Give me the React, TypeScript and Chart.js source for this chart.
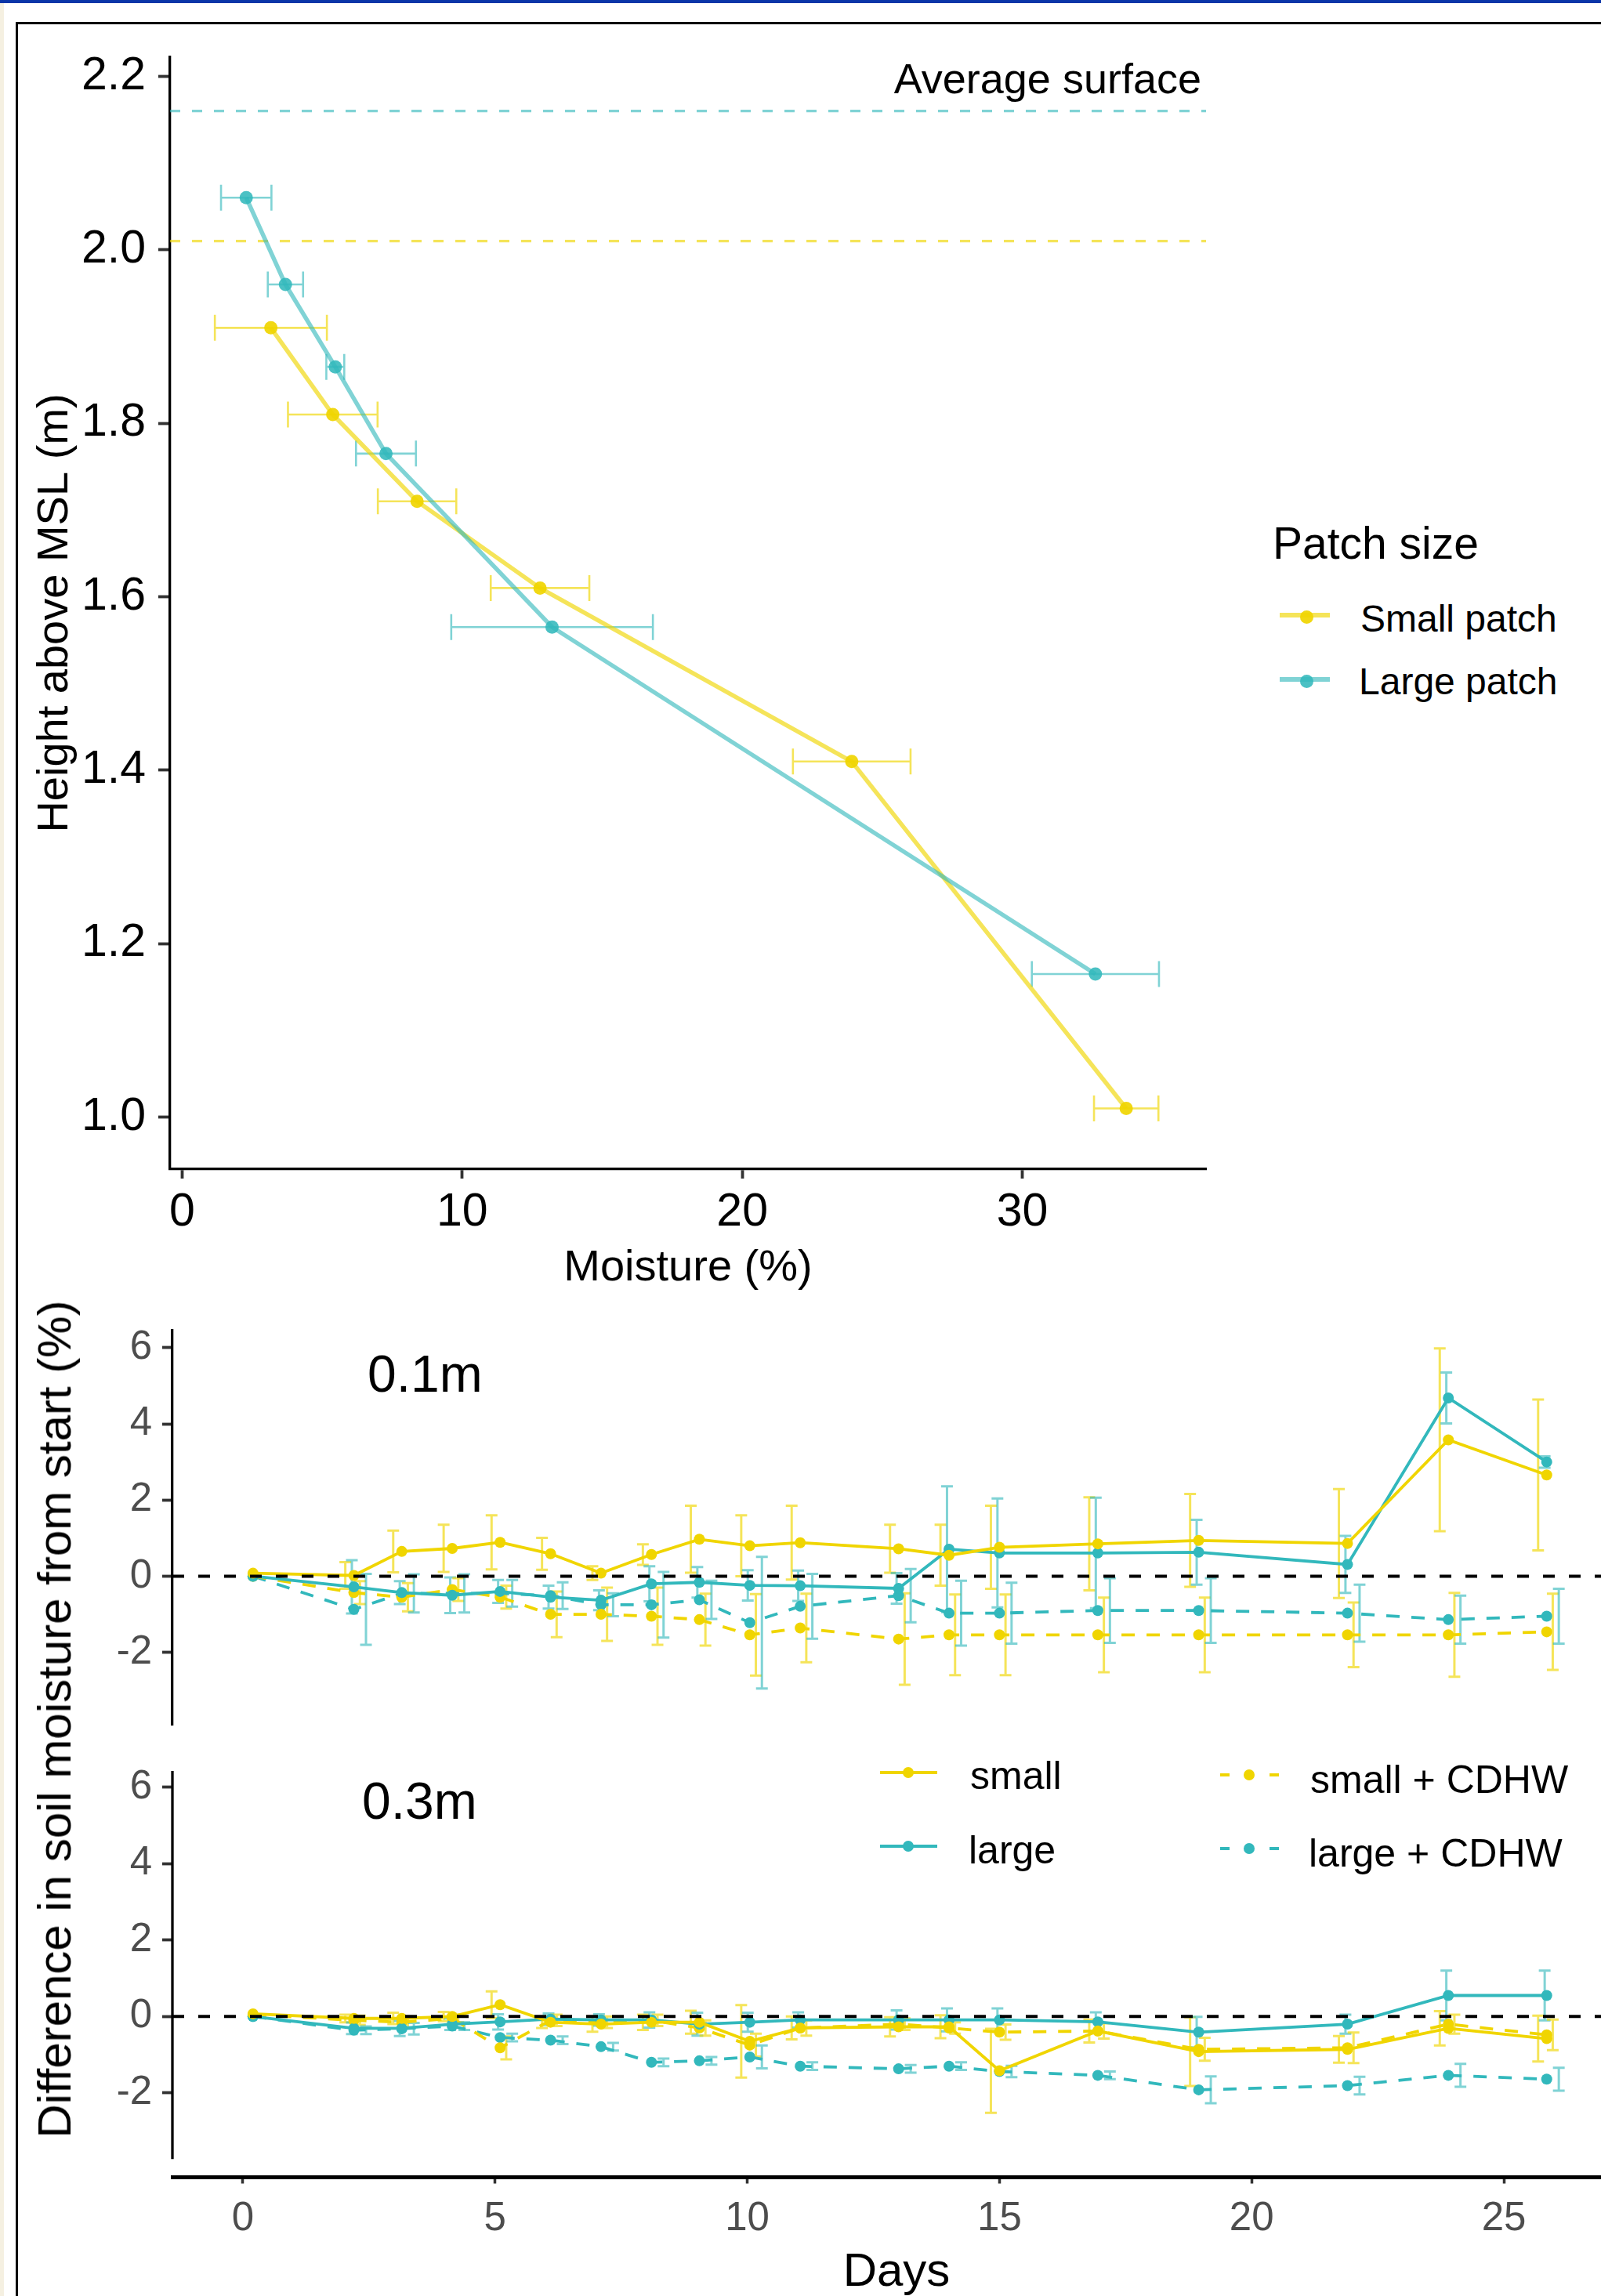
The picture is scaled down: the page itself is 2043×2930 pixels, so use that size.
import React, { useEffect, useRef } from "react";
import { Chart, registerables } from "chart.js";

Chart.register(...registerables);

const FONT = "'Liberation Sans', Arial, Helvetica, sans-serif";
Chart.defaults.font.family = FONT;

// ---------------- Top panel: moisture profile ----------------
const smallMoisture = [3.17, 5.38, 8.39, 12.78, 23.91, 33.71];
const smallHeight = [1.91, 1.81, 1.71, 1.61, 1.41, 1.01];
const smallMoistureErr = [2.0, 1.6, 1.4, 1.76, 2.1, 1.15];
const largeMoisture = [2.29, 3.69, 5.47, 7.28, 13.21, 32.61];
const largeHeight = [2.06, 1.96, 1.865, 1.765, 1.565, 1.165];
const largeMoistureErr = [0.9, 0.63, 0.32, 1.07, 3.6, 2.27];
const surfaceSmall = 2.01;
const surfaceLarge = 2.16;
const moistureTicks = [0, 10, 20, 30];
const heightTicks = [1.0, 1.2, 1.4, 1.6, 1.8, 2.0, 2.2];

// ---------------- Bottom panels: difference from start ----------------
const days = [0.2, 2.2, 3.15, 4.15, 5.1, 6.1, 7.1, 8.1, 9.05, 10.05, 11.05, 13.0, 14.0, 15.0, 16.95, 18.95, 21.9, 23.9, 25.85];

// 0.1 m
const small01 = [0.08, 0.02, 0.65, 0.73, 0.89, 0.59, 0.08, 0.57, 0.97, 0.8, 0.88, 0.72, 0.55, 0.76, 0.85, 0.94, 0.86, 3.58, 2.66];
const small01Err = [0, 0.35, 0.55, 0.62, 0.71, 0.42, 0.18, 0.27, 0.88, 0.8, 0.97, 0.63, 0.8, 1.09, 1.22, 1.22, 1.43, 2.4, 1.98];
const large01 = [0.0, -0.28, -0.43, -0.5, -0.4, -0.55, -0.63, -0.2, -0.16, -0.24, -0.25, -0.32, 0.71, 0.61, 0.61, 0.63, 0.31, 4.68, 3.0];
const large01Err = [0, 0.7, 0.3, 0.47, 0.3, 0.3, 0.26, 0.46, 0.4, 0.4, 0.4, 0.4, 1.65, 1.43, 1.45, 0.85, 0.75, 0.67, 0.15];
const smallC01 = [0.0, -0.43, -0.55, -0.35, -0.55, -1.0, -1.0, -1.05, -1.14, -1.54, -1.36, -1.65, -1.54, -1.54, -1.54, -1.54, -1.54, -1.54, -1.46];
const smallC01Err = [0, 0.3, 0.37, 0.3, 0.3, 0.6, 0.7, 0.75, 0.68, 1.07, 0.9, 1.2, 1.06, 1.06, 0.98, 0.98, 0.85, 1.1, 1.0];
const largeC01 = [0.0, -0.87, -0.45, -0.45, -0.45, -0.51, -0.75, -0.75, -0.62, -1.22, -0.79, -0.51, -0.97, -0.97, -0.9, -0.9, -0.97, -1.14, -1.05];
const largeC01Err = [0, 0.93, 0.5, 0.5, 0.35, 0.35, 0.3, 0.86, 0.5, 1.73, 0.85, 0.7, 0.85, 0.8, 0.85, 0.85, 0.75, 0.63, 0.72];

// 0.3 m
const small03 = [0.07, -0.05, -0.05, 0.0, 0.31, -0.15, -0.2, -0.15, -0.15, -0.65, -0.3, -0.27, -0.27, -1.42, -0.38, -0.92, -0.86, -0.31, -0.58];
const small03Err = [0, 0.1, 0.15, 0.12, 0.35, 0.15, 0.2, 0.2, 0.3, 0.95, 0.3, 0.25, 0.3, 1.1, 0.3, 0.9, 0.35, 0.45, 0.6];
const large03 = [0.0, -0.31, -0.31, -0.2, -0.14, -0.07, -0.09, -0.09, -0.2, -0.15, -0.09, -0.09, -0.09, -0.09, -0.14, -0.41, -0.2, 0.55, 0.55];
const large03Err = [0, 0.15, 0.2, 0.15, 0.2, 0.15, 0.15, 0.2, 0.3, 0.25, 0.2, 0.25, 0.3, 0.3, 0.25, 0.4, 0.25, 0.65, 0.65];
const smallC03 = [0.05, -0.1, -0.15, -0.05, -0.82, -0.1, -0.15, -0.1, -0.3, -0.75, -0.3, -0.2, -0.3, -0.41, -0.38, -0.86, -0.82, -0.2, -0.48];
const smallC03Err = [0, 0.12, 0.15, 0.1, 0.3, 0.15, 0.15, 0.15, 0.2, 0.3, 0.2, 0.15, 0.15, 0.2, 0.2, 0.3, 0.4, 0.25, 0.4];
const largeC03 = [0.0, -0.36, -0.32, -0.25, -0.55, -0.62, -0.79, -1.2, -1.16, -1.06, -1.3, -1.37, -1.3, -1.44, -1.54, -1.92, -1.81, -1.54, -1.64];
const largeC03Err = [0, 0.1, 0.15, 0.1, 0.1, 0.1, 0.1, 0.1, 0.1, 0.3, 0.1, 0.1, 0.1, 0.15, 0.1, 0.35, 0.23, 0.3, 0.3];

const diffTicks = [-2, 0, 2, 4, 6];
const dayTicks = [0, 5, 10, 15, 20, 25];

// ---------------- styles ----------------
const YELLOW = "rgb(240,213,0)";
const CYAN = "rgb(50,184,188)";
const YELLOW_A = "rgba(240,213,0,0.65)";
const CYAN_A = "rgba(50,184,188,0.62)";
const YELLOW_PT = "rgba(240,213,0,0.92)";
const CYAN_PT = "rgba(50,184,188,0.88)";

// error bar plugin
const errorBarPlugin = {
  id: "errorBars",
  beforeDatasetsDraw(chart: any) {
    const ctx = chart.ctx;
    const xs = chart.scales.x;
    const ys = chart.scales.y;
    chart.data.datasets.forEach((ds: any) => {
      const eb = ds.errorBars;
      if (!eb) return;
      ctx.save();
      ctx.strokeStyle = eb.color;
      ctx.lineWidth = eb.width;
      ctx.setLineDash([]);
      ds.data.forEach((p: any, i: number) => {
        const e = eb.err[i];
        if (!e) return;
        ctx.beginPath();
        if (eb.dir === "y") {
          const x = xs.getPixelForValue(p.x + (eb.offset || 0));
          const y1 = ys.getPixelForValue(p.y - e);
          const y2 = ys.getPixelForValue(p.y + e);
          ctx.moveTo(x, y1);
          ctx.lineTo(x, y2);
          ctx.moveTo(x - eb.cap / 2, y1);
          ctx.lineTo(x + eb.cap / 2, y1);
          ctx.moveTo(x - eb.cap / 2, y2);
          ctx.lineTo(x + eb.cap / 2, y2);
        } else {
          const y = ys.getPixelForValue(p.y);
          const x1 = xs.getPixelForValue(p.x - e);
          const x2 = xs.getPixelForValue(p.x + e);
          ctx.moveTo(x1, y);
          ctx.lineTo(x2, y);
          ctx.moveTo(x1, y - eb.cap / 2);
          ctx.lineTo(x1, y + eb.cap / 2);
          ctx.moveTo(x2, y - eb.cap / 2);
          ctx.lineTo(x2, y + eb.cap / 2);
        }
        ctx.stroke();
      });
      ctx.restore();
    });
  },
};

function drawRefLines(chart: any, lines: any[]) {
  if (!lines) return;
  const ctx = chart.ctx;
  const ys = chart.scales.y;
  const { left, right } = chart.chartArea;
  lines.forEach((l: any) => {
    const y = ys.getPixelForValue(l.value);
    ctx.save();
    ctx.strokeStyle = l.color;
    ctx.lineWidth = l.width;
    ctx.setLineDash(l.dash || []);
    ctx.beginPath();
    ctx.moveTo(left, y);
    ctx.lineTo(right, y);
    ctx.stroke();
    ctx.restore();
  });
}

const refLinePlugin = {
  id: "refLines",
  beforeDatasetsDraw(chart: any, _a: any, opts: any) {
    drawRefLines(chart, opts.below);
  },
  afterDatasetsDraw(chart: any, _a: any, opts: any) {
    drawRefLines(chart, opts.above);
  },
};

const axisLinePlugin = {
  id: "axisLine",
  afterDraw(chart: any, _a: any, opts: any) {
    if (!opts || opts.to === undefined) return;
    const ctx = chart.ctx;
    const ys = chart.scales.y;
    const x = chart.chartArea.left;
    ctx.save();
    ctx.strokeStyle = opts.color;
    ctx.lineWidth = opts.width;
    ctx.beginPath();
    ctx.moveTo(x, chart.chartArea.top);
    ctx.lineTo(x, ys.getPixelForValue(opts.to));
    ctx.stroke();
    ctx.restore();
  },
};

function pts(xs: number[], ys: number[]) {
  return xs.map((x, i) => ({ x, y: ys[i] }));
}

function topConfig(): any {
  const mk = (label: string, xs: number[], ys: number[], err: number[], line: string, pt: string, errC: string) => ({
    label,
    data: pts(xs, ys),
    showLine: true,
    borderColor: line,
    borderWidth: 5.5,
    pointRadius: 8.5,
    pointBackgroundColor: pt,
    pointBorderWidth: 0,
    errorBars: { dir: "x", err, color: errC, width: 2.6, cap: 33 },
  });
  return {
    type: "scatter",
    data: {
      datasets: [
        mk("Large patch", largeMoisture, largeHeight, largeMoistureErr, CYAN_A, CYAN_PT, CYAN_A),
        mk("Small patch", smallMoisture, smallHeight, smallMoistureErr, YELLOW_A, YELLOW_PT, YELLOW_A),
      ],
    },
    options: {
      responsive: false,
      animation: false,
      layout: { padding: { top: 73, right: 21, left: 0, bottom: 0 } },
      plugins: {
        legend: { display: false },
        tooltip: { enabled: false },
        refLines: {
          below: [
            { value: surfaceLarge, color: CYAN_A, width: 3.2, dash: [13, 15] },
            { value: surfaceSmall, color: YELLOW_A, width: 3.2, dash: [13, 15] },
          ],
        },
      },
      scales: {
        x: {
          type: "linear",
          min: -0.43,
          max: 36.56,
          afterBuildTicks: (s: any) => {
            s.ticks = moistureTicks.map((v) => ({ value: v }));
          },
          afterFit: (s: any) => {
            s.height = 208;
          },
          grid: { display: true, drawOnChartArea: false, drawTicks: true, tickLength: 12, tickColor: "#333", tickWidth: 3.8 },
          border: { display: true, color: "#000", width: 3.3 },
          ticks: { font: { size: 59 }, color: "#000", padding: 8, maxRotation: 0, callback: (v: any) => String(v) },
          title: { display: true, text: "Moisture (%)", font: { size: 56 }, color: "#000", padding: { top: 0, bottom: 48 } },
        },
        y: {
          type: "linear",
          min: 0.94,
          max: 2.222,
          afterBuildTicks: (s: any) => {
            s.ticks = heightTicks.map((v) => ({ value: v }));
          },
          afterFit: (s: any) => {
            s.width = 217;
          },
          grid: { display: true, drawOnChartArea: false, drawTicks: true, tickLength: 15, tickColor: "#333", tickWidth: 3.8 },
          border: { display: true, color: "#000", width: 3.3 },
          ticks: { font: { size: 59 }, color: "#000", padding: 16, callback: (v: any) => Number(v).toFixed(1) },
          title: { display: true, text: "Height above MSL (m)", font: { size: 56 }, color: "#000", padding: { top: 37, bottom: 0 } },
        },
      },
    },
    plugins: [errorBarPlugin, refLinePlugin],
  };
}

function panelDatasets(s: number[], se: number[], l: number[], le: number[], sc: number[], sce: number[], lc: number[], lce: number[]) {
  const base = (label: string, vals: number[], err: number[], col: string, errC: string, dash: number[], off: number) => ({
    label,
    data: pts(days, vals),
    showLine: true,
    borderColor: col,
    borderWidth: 3.8,
    borderDash: dash,
    pointRadius: 7,
    pointBackgroundColor: col,
    pointBorderWidth: 0,
    errorBars: { dir: "y", err, color: errC, width: 3, cap: 15, offset: off },
  });
  return [
    base("small", s, se, YELLOW, YELLOW_A, [], -0.17),
    base("large", l, le, CYAN, CYAN_A, [], -0.04),
    base("small + CDHW", sc, sce, YELLOW, YELLOW_A, [17, 15], 0.12),
    base("large + CDHW", lc, lce, CYAN, CYAN_A, [17, 15], 0.24),
  ];
}

const DAY_MIN = -1.398;
const DAY_MAX = 27.315;

function panelConfig(which: "01" | "03"): any {
  const isBottom = which === "03";
  const datasets =
    which === "01"
      ? panelDatasets(small01, small01Err, large01, large01Err, smallC01, smallC01Err, largeC01, largeC01Err)
      : panelDatasets(small03, small03Err, large03, large03Err, smallC03, smallC03Err, largeC03, largeC03Err);
  return {
    type: "scatter",
    data: { datasets },
    options: {
      responsive: false,
      animation: false,
      layout: { padding: isBottom ? { top: 60, bottom: 0, left: 0, right: 12 } : { top: 58, bottom: 59, left: 0, right: 12 } },
      plugins: {
        legend: { display: false },
        tooltip: { enabled: false },
        refLines: { above: [{ value: 0, color: "#000", width: 4, dash: [15, 18] }] },
        axisLine: isBottom ? { to: -3.73, color: "#000", width: 3.3 } : {},
      },
      scales: {
        x: {
          type: "linear",
          display: isBottom,
          min: DAY_MIN,
          max: DAY_MAX,
          afterBuildTicks: (s: any) => {
            s.ticks = dayTicks.map((v) => ({ value: v }));
          },
          afterFit: (s: any) => {
            if (isBottom) s.height = 151.5;
          },
          grid: { display: true, drawOnChartArea: false, drawTicks: true, tickLength: 8, tickColor: "#333", tickWidth: 3.5 },
          border: { display: true, color: "#000", width: 5 },
          ticks: { font: { size: 51 }, color: "#4d4d4d", padding: 15, maxRotation: 0, callback: (v: any) => String(v) },
          title: { display: true, text: "Days", font: { size: 60, lineHeight: 1.0 }, color: "#000", padding: { top: 0, bottom: 0 } },
        },
        y: {
          type: "linear",
          min: isBottom ? -4.209 : -3.9,
          max: isBottom ? 6.427 : 6.45,
          afterBuildTicks: (s: any) => {
            s.ticks = diffTicks.map((v) => ({ value: v }));
          },
          afterFit: (s: any) => {
            s.width = 220;
          },
          grid: { display: true, drawOnChartArea: false, drawTicks: true, tickLength: 13, tickColor: "#333", tickWidth: 3.8 },
          border: { display: !isBottom, color: "#000", width: 3.3 },
          ticks: { font: { size: 51 }, color: "#4d4d4d", padding: 13, callback: (v: any) => String(v) },
        },
      },
    },
    plugins: [errorBarPlugin, refLinePlugin, axisLinePlugin],
  };
}

function ChartCanvas({ make, left, top, width, height }: any) {
  const ref = useRef<HTMLCanvasElement | null>(null);
  useEffect(() => {
    if (!ref.current) return;
    const c = new Chart(ref.current, make());
    return () => c.destroy();
  }, []);
  return (
    <canvas
      ref={ref}
      width={width}
      height={height}
      style={{ position: "absolute", left, top, width, height }}
    />
  );
}

const ASC = 0.8465;
function Txt({ x, base, size, children, right, color }: any) {
  return (
    <div
      style={{
        position: "absolute",
        left: x,
        top: base - ASC * size,
        fontSize: size,
        lineHeight: 1,
        whiteSpace: "nowrap",
        color: color || "#000",
        transform: right ? "translateX(-100%)" : undefined,
      }}
    >
      {children}
    </div>
  );
}

function Dot({ x, y, d, color }: any) {
  return (
    <div
      style={{
        position: "absolute",
        left: x - d / 2,
        top: y - d / 2,
        width: d,
        height: d,
        borderRadius: "50%",
        background: color,
      }}
    />
  );
}

function HBar({ x1, x2, y, w, color }: any) {
  return <div style={{ position: "absolute", left: x1, top: y - w / 2, width: x2 - x1, height: w, background: color }} />;
}

export default function App() {
  return (
    <div
      style={{
        position: "absolute",
        left: 0,
        top: 0,
        width: 2043,
        height: 2930,
        overflow: "hidden",
        background: "#fff",
        fontFamily: FONT,
      }}
    >
      {/* page chrome */}
      <div style={{ position: "absolute", left: 0, top: 0, width: 2043, height: 4, background: "#0b36a8" }} />
      <div style={{ position: "absolute", left: 0, top: 4, width: 5, height: 2926, background: "#f5f0e1" }} />
      <div style={{ position: "absolute", left: 20, top: 28, width: 2023, height: 3, background: "#000" }} />
      <div style={{ position: "absolute", left: 20, top: 28, width: 3, height: 2902, background: "#000" }} />

      <ChartCanvas make={topConfig} left={0} top={0} width={1560} height={1700} />
      <ChartCanvas make={() => panelConfig("01")} left={0} top={1640} width={2080} height={620} />
      <ChartCanvas make={() => panelConfig("03")} left={0} top={2200} width={2080} height={730} />

      {/* top annotations */}
      <Txt x={1533} base={119} size={54} right>
        Average surface
      </Txt>
      <Txt x={1624} base={713} size={57}>
        Patch size
      </Txt>
      <HBar x1={1633} x2={1697} y={785} w={6} color={YELLOW_A} />
      <Dot x={1667} y={787} d={17} color={YELLOW_PT} />
      <Txt x={1736} base={807} size={48}>
        Small patch
      </Txt>
      <HBar x1={1633} x2={1697} y={867} w={6} color={CYAN_A} />
      <Dot x={1667} y={869} d={17} color={CYAN_PT} />
      <Txt x={1734} base={887} size={48}>
        Large patch
      </Txt>

      {/* bottom annotations */}
      <Txt x={469} base={1776} size={66}>
        0.1m
      </Txt>
      <Txt x={462} base={2321} size={66}>
        0.3m
      </Txt>

      <HBar x1={1123} x2={1196} y={2262} w={4} color={YELLOW} />
      <Dot x={1159} y={2262} d={14} color={YELLOW} />
      <Txt x={1238} base={2283} size={50}>
        small
      </Txt>
      <HBar x1={1123} x2={1196} y={2356} w={4} color={CYAN} />
      <Dot x={1159} y={2356} d={14} color={CYAN} />
      <Txt x={1236} base={2378} size={50}>
        large
      </Txt>

      <HBar x1={1557} x2={1569} y={2265} w={4} color={YELLOW} />
      <Dot x={1594} y={2265} d={14} color={YELLOW} />
      <HBar x1={1620} x2={1632} y={2265} w={4} color={YELLOW} />
      <Txt x={1672} base={2288} size={50}>
        small + CDHW
      </Txt>
      <HBar x1={1557} x2={1569} y={2359} w={4} color={CYAN} />
      <Dot x={1594} y={2359} d={14} color={CYAN} />
      <HBar x1={1620} x2={1632} y={2359} w={4} color={CYAN} />
      <Txt x={1670} base={2382} size={50}>
        large + CDHW
      </Txt>

      <div
        style={{
          position: "absolute",
          left: 70,
          top: 2194,
          fontSize: 60,
          lineHeight: 1,
          whiteSpace: "nowrap",
          color: "#000",
          transform: "translate(-50%, -50%) rotate(-90deg)",
        }}
      >
        Difference in soil moisture from start (%)
      </div>
    </div>
  );
}
